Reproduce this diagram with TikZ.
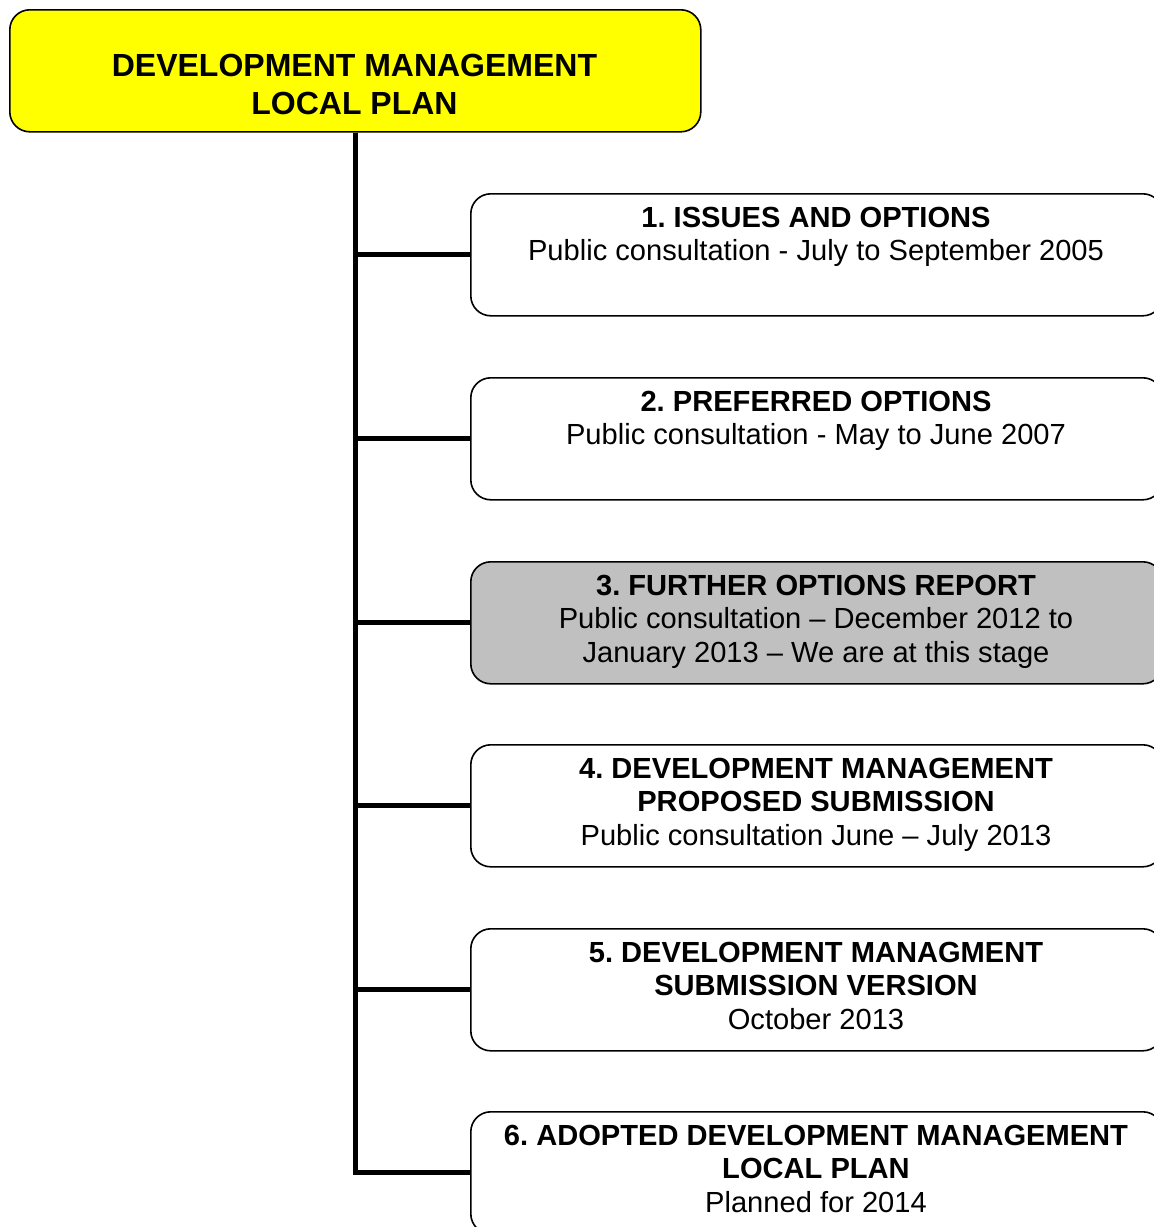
\documentclass[tikz,border=0pt]{standalone}
\usepackage{fontspec}
\setmainfont{Liberation Sans}
\definecolor{stagegray}{RGB}{192,192,192}
\definecolor{titleyellow}{RGB}{255,255,0}
\frenchspacing
\begin{document}
\begin{tikzpicture}[x=1pt,y=-1pt,
  box/.style={draw=black, line width=1.6pt, rounded corners=20pt, minimum width=692pt, minimum height=122pt, inner sep=0pt, anchor=north west, fill=white},
  txt/.style={anchor=north, align=center, inner sep=0pt, font=\fontsize{29.1}{33.5}\selectfont},
  ttl/.style={anchor=north, align=center, inner sep=0pt, font=\fontsize{32}{38}\selectfont\bfseries},
  conn/.style={line width=5pt}]
\useasboundingbox (0,0) rectangle (1154,1227);
% title box
\node[box, fill=titleyellow, minimum width=691pt] (top) at (9,9) {};
\node[ttl] (toptxt) at (354.5,53.5) {DEVELOPMENT MANAGEMENT\\LOCAL PLAN};
% stage boxes
\node[box] (b1) at (470,193) {};
\node[box] (b2) at (470,377) {};
\node[box, fill=stagegray] (b3) at (470,561) {};
\node[box] (b4) at (470,744) {};
\node[box] (b5) at (470,928) {};
\node[box] (b6) at (470,1111) {};
% connectors
\draw[conn] (top.south) |- (b6.west);
\foreach \b in {b1,b2,b3,b4,b5}{
  \draw[conn] (top.south |- \b.west) -- (\b.west);
}
% texts
\node[txt] (t1) at (816,206.5) {\textbf{1. ISSUES AND OPTIONS}\\Public consultation - July to September 2005};
\node[txt] (t2) at (816,390.5) {\textbf{2. PREFERRED OPTIONS}\\Public consultation - May to June 2007};
\node[txt] (t3) at (816,574.5) {\textbf{3. FURTHER OPTIONS REPORT}\\Public consultation – December 2012 to\\January 2013 – We are at this stage};
\node[txt] (t4) at (816,757.5) {\textbf{4. DEVELOPMENT MANAGEMENT}\\\textbf{PROPOSED SUBMISSION}\\Public consultation June – July 2013};
\node[txt] (t5) at (816,941.5) {\textbf{5. DEVELOPMENT MANAGMENT}\\\textbf{SUBMISSION VERSION}\\October 2013};
\node[txt] (t6) at (816,1124.5) {\textbf{6. ADOPTED DEVELOPMENT MANAGEMENT}\\\textbf{LOCAL PLAN}\\Planned for 2014};
\end{tikzpicture}
\end{document}
